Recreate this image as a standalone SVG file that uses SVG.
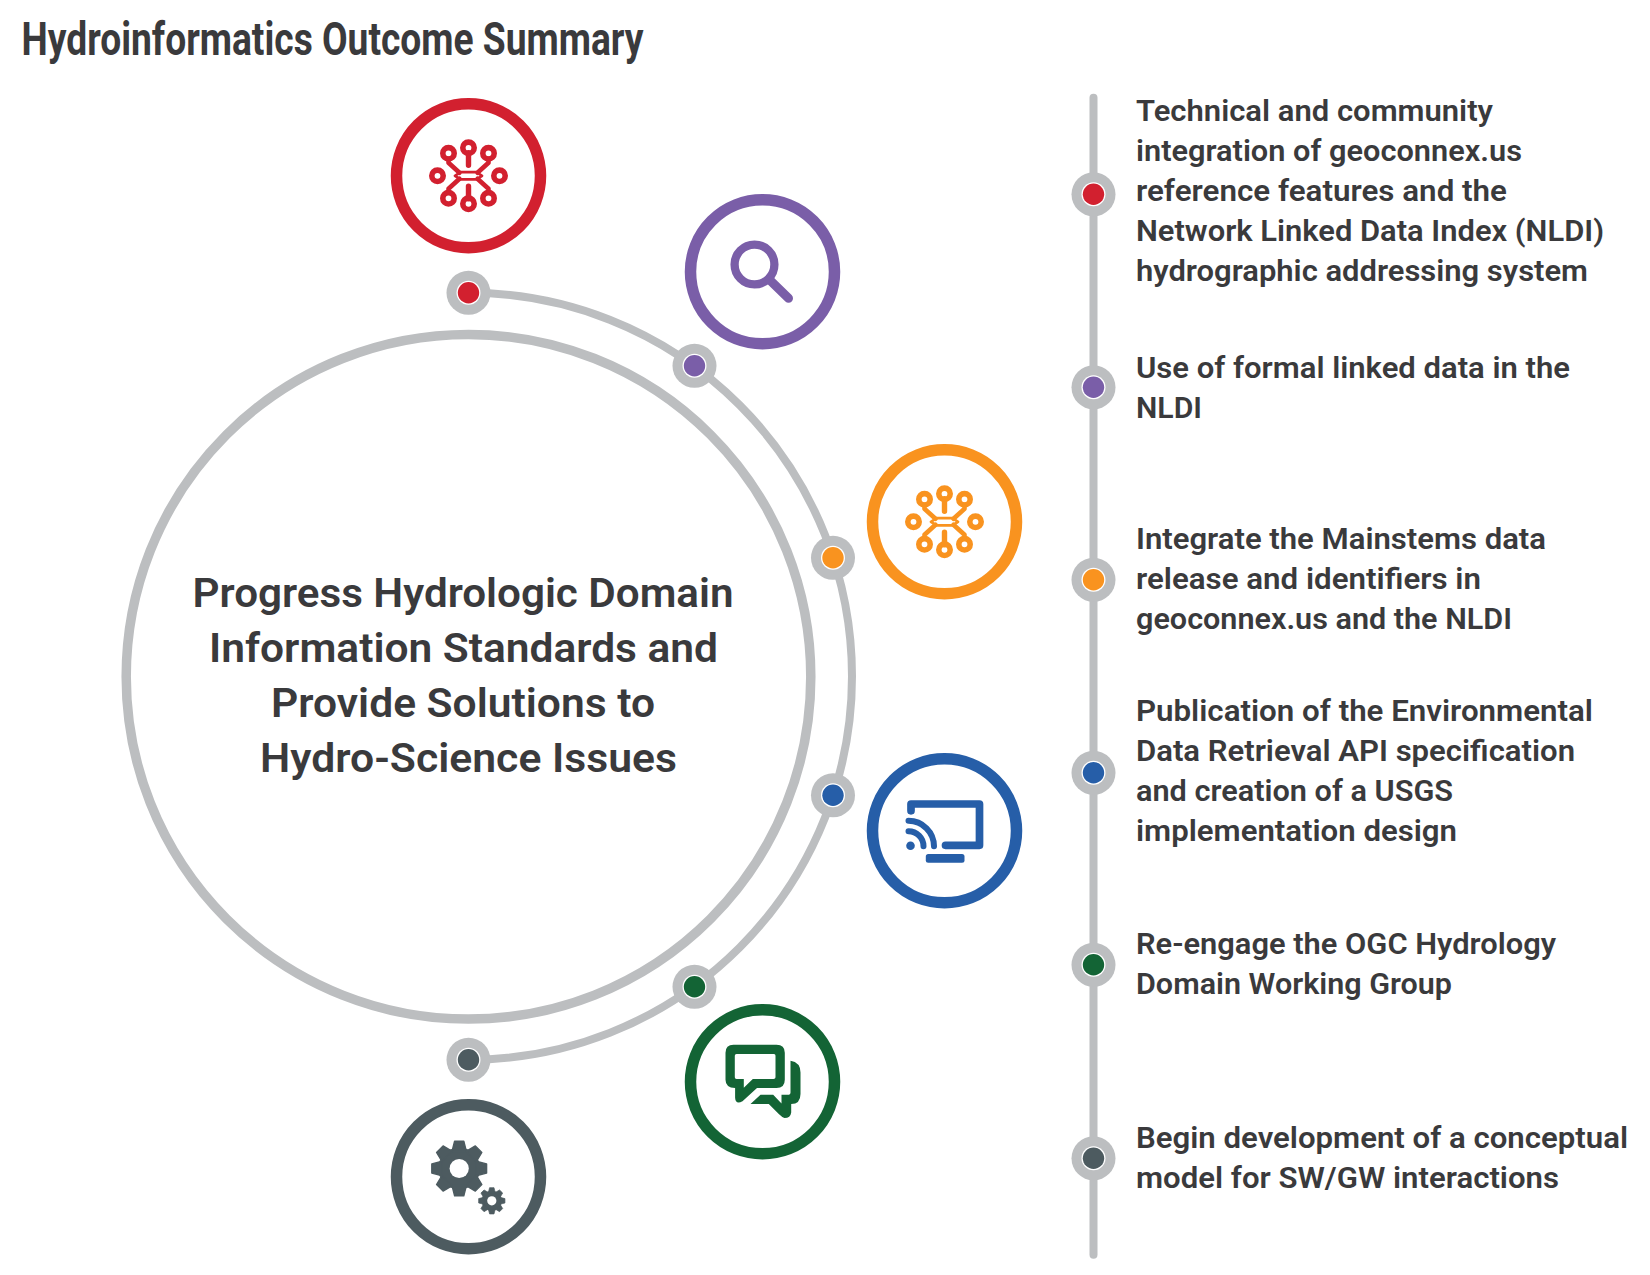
<svg xmlns="http://www.w3.org/2000/svg" width="1650" height="1275" viewBox="0 0 1650 1275">
<style>
text{font-family:Roboto,"Liberation Sans",sans-serif;fill:#3a3a3c;font-weight:600}
.item{font-size:30px}
.hub{font-size:40px}
.title{font-size:47px;font-weight:700}
.ring{fill:#fff;stroke-width:11.5}
.conn{fill:none;stroke:#bcbec0}
.halo{fill:#bcbec0}
.gap{fill:#fff}
.circuit circle{fill:none;stroke-width:5.6}
.circuit path{fill:none;stroke-width:4.6;stroke-linejoin:round;stroke-linecap:round}
.red{stroke:#d2202f}.purple{stroke:#7a5ea8}.orange{stroke:#f9931f}.blue{stroke:#265ea8}.green{stroke:#136435}.slate{stroke:#4d5b60}
.fred{fill:#d2202f}.fpurple{fill:#7a5ea8}.forange{fill:#f9931f}.fblue{fill:#265ea8}.fgreen{fill:#136435}.fslate{fill:#4d5b60}
</style>
<defs>
<g id="circuit" class="circuit">
<circle cx="0" cy="-28" r="5.7"/><circle cx="-20" cy="-22.5" r="5.7"/><circle cx="20" cy="-22.5" r="5.7"/>
<circle cx="-31" cy="0" r="5.7"/><circle cx="31" cy="0" r="5.7"/>
<circle cx="-20" cy="22.5" r="5.7"/><circle cx="20" cy="22.5" r="5.7"/><circle cx="0" cy="28" r="5.7"/>
<path d="M-20,-17V-13L-9,-3M20,-17V-13L9,-3M-20,17V13L-9,3M20,17V13L9,3"/>
<path style="stroke-width:2.8" d="M-8,-3.6H8L13.5,0L8,3.6H-8L-13.5,0Z"/>
<path style="stroke-width:5.4" d="M0,-23V-10.5M0,23V10.5"/>
</g>
<path id="tooth" d="M-4.6,-27.4H4.6L7.2,-17H-7.2Z" stroke-linejoin="round" stroke-width="1.4"/>
<g id="gear">
<circle r="20.5"/>
<use href="#tooth"/><use href="#tooth" transform="rotate(45)"/><use href="#tooth" transform="rotate(90)"/><use href="#tooth" transform="rotate(135)"/>
<use href="#tooth" transform="rotate(180)"/><use href="#tooth" transform="rotate(225)"/><use href="#tooth" transform="rotate(270)"/><use href="#tooth" transform="rotate(315)"/>
<circle r="9.6" fill="#fff" stroke="none"/>
</g>
</defs>
<rect width="1650" height="1275" fill="#fff"/>
<text id="title" class="title" x="21.5" y="55" textLength="622" lengthAdjust="spacingAndGlyphs">Hydroinformatics Outcome Summary</text>
<g transform="translate(0.5 0.8)">
<g id="connectors">
<path class="conn" stroke-width="8" d="M468,292A383.5,383.5 0 0 1 468,1059"/>
<line class="conn" stroke-width="8" stroke-linecap="round" x1="1093" y1="97" x2="1093" y2="1254"/>
</g>

<g id="hub">
<circle cx="468" cy="676" r="342.3" fill="none" stroke="#bcbec0" stroke-width="9.5"/>
<text class="hub" x="192" y="606.5" textLength="541" lengthAdjust="spacingAndGlyphs">Progress Hydrologic Domain</text>
<text class="hub" x="208.5" y="661.5" textLength="509" lengthAdjust="spacingAndGlyphs">Information Standards and</text>
<text class="hub" x="270.5" y="716.5" textLength="384" lengthAdjust="spacingAndGlyphs">Provide Solutions to</text>
<text class="hub" x="259.5" y="771.5" textLength="417" lengthAdjust="spacingAndGlyphs">Hydro-Science Issues</text>
</g>

<g id="node-1">
<circle class="ring red" cx="468" cy="175" r="72"/>
<use href="#circuit" class="red" x="468" y="175" stroke="#d2202f"/>
<circle class="halo" cx="468" cy="292" r="22"/><circle class="gap" cx="468" cy="292" r="12"/><circle class="fred" cx="468" cy="292" r="10.7"/>
<circle class="halo" cx="1093" cy="193.5" r="22"/><circle class="gap" cx="1093" cy="193.5" r="12"/><circle class="fred" cx="1093" cy="193.5" r="10.7"/>
<text class="item" x="1135.5" y="120.5" textLength="357" lengthAdjust="spacingAndGlyphs">Technical and community</text>
<text class="item" x="1135.5" y="160.5" textLength="386" lengthAdjust="spacingAndGlyphs">integration of geoconnex.us</text>
<text class="item" x="1135.5" y="200.5" textLength="371" lengthAdjust="spacingAndGlyphs">reference features and the</text>
<text class="item" x="1135.5" y="240.5" textLength="468" lengthAdjust="spacingAndGlyphs">Network Linked Data Index (NLDI)</text>
<text class="item" x="1135.5" y="280.5" textLength="452" lengthAdjust="spacingAndGlyphs">hydrographic addressing system</text>
</g>

<g id="node-2">
<circle class="ring purple" cx="762" cy="271" r="72"/>
<circle cx="754" cy="263.7" r="19.9" fill="none" stroke="#7a5ea8" stroke-width="8.3"/>
<line x1="769" y1="279" x2="788" y2="297.5" stroke="#7a5ea8" stroke-width="9" stroke-linecap="round"/>
<circle class="halo" cx="694" cy="365" r="22"/><circle class="gap" cx="694" cy="365" r="12"/><circle class="fpurple" cx="694" cy="365" r="10.7"/>
<circle class="halo" cx="1093" cy="386.5" r="22"/><circle class="gap" cx="1093" cy="386.5" r="12"/><circle class="fpurple" cx="1093" cy="386.5" r="10.7"/>
<text class="item" x="1135.5" y="377.5" textLength="434" lengthAdjust="spacingAndGlyphs">Use of formal linked data in the</text>
<text class="item" x="1135.5" y="417.5" textLength="66" lengthAdjust="spacingAndGlyphs">NLDI</text>
</g>

<g id="node-3">
<circle class="ring orange" cx="944" cy="521" r="72"/>
<use href="#circuit" class="orange" x="944" y="521" stroke="#f9931f"/>
<circle class="halo" cx="832.5" cy="557" r="22"/><circle class="gap" cx="832.5" cy="557" r="12"/><circle class="forange" cx="832.5" cy="557" r="10.7"/>
<circle class="halo" cx="1093" cy="579" r="22"/><circle class="gap" cx="1093" cy="579" r="12"/><circle class="forange" cx="1093" cy="579" r="10.7"/>
<text class="item" x="1135.5" y="548.5" textLength="410" lengthAdjust="spacingAndGlyphs">Integrate the Mainstems data</text>
<text class="item" x="1135.5" y="588.5" textLength="345" lengthAdjust="spacingAndGlyphs">release and identifiers in</text>
<text class="item" x="1135.5" y="628.5" textLength="376" lengthAdjust="spacingAndGlyphs">geoconnex.us and the NLDI</text>
</g>

<g id="node-4">
<circle class="ring blue" cx="944" cy="830" r="72"/>
<g fill="none" stroke="#265ea8" stroke-linecap="round" stroke-linejoin="round">
<path stroke-width="7.7" d="M910.5,810V803.2H979V844.5H945"/>
<path stroke-width="6" d="M908,830.5A15,15 0 0 1 923,845.5"/>
<path stroke-width="6" d="M908,820A25.5,25.5 0 0 1 933.5,845.5"/>
</g>
<circle class="fblue" cx="910" cy="845" r="4.3"/>
<rect class="fblue" x="925.3" y="853.3" width="38.7" height="8.7" rx="2.5"/>
<circle class="halo" cx="832.5" cy="794.5" r="22"/><circle class="gap" cx="832.5" cy="794.5" r="12"/><circle class="fblue" cx="832.5" cy="794.5" r="10.7"/>
<circle class="halo" cx="1093" cy="772" r="22"/><circle class="gap" cx="1093" cy="772" r="12"/><circle class="fblue" cx="1093" cy="772" r="10.7"/>
<text class="item" x="1135.5" y="720.5" textLength="457" lengthAdjust="spacingAndGlyphs">Publication of the Environmental</text>
<text class="item" x="1135.5" y="760.5" textLength="439" lengthAdjust="spacingAndGlyphs">Data Retrieval API specification</text>
<text class="item" x="1135.5" y="800.5" textLength="317" lengthAdjust="spacingAndGlyphs">and creation of a USGS</text>
<text class="item" x="1135.5" y="840.5" textLength="321" lengthAdjust="spacingAndGlyphs">implementation design</text>
</g>

<g id="node-5">
<circle class="ring green" cx="762" cy="1081" r="72"/>
<path class="fgreen" fill-rule="evenodd" d="M733,1044H776Q784.3,1044 784.3,1052V1079Q784.3,1087.3 776,1087.3H756.5L742,1100.5Q735,1104 734.6,1097V1087.3Q725,1087 725,1079V1052Q725,1044 733,1044ZM736,1053.3H773.5Q775,1053.3 775,1055V1076.5Q775,1078.3 773,1078.3H752.3L743.3,1087V1078.3H736Q734.3,1078.3 734.3,1076.5V1055Q734.3,1053.3 736,1053.3Z"/>
<path class="fgreen" d="M790,1060Q800,1061.7 800,1071.7V1093.3Q800,1103.3 790.7,1103.3V1111.7Q790,1117.3 784,1117.3Q781.7,1116.7 778.3,1113.3L768.3,1103.3H750L760,1094H772.7L781,1102.7V1094H787.3Q790,1094 790,1091.7Z"/>
<circle class="halo" cx="694" cy="986" r="22"/><circle class="gap" cx="694" cy="986" r="12"/><circle class="fgreen" cx="694" cy="986" r="10.7"/>
<circle class="halo" cx="1093" cy="964" r="22"/><circle class="gap" cx="1093" cy="964" r="12"/><circle class="fgreen" cx="1093" cy="964" r="10.7"/>
<text class="item" x="1135.5" y="953" textLength="420" lengthAdjust="spacingAndGlyphs">Re-engage the OGC Hydrology</text>
<text class="item" x="1135.5" y="993" textLength="316" lengthAdjust="spacingAndGlyphs">Domain Working Group</text>
</g>

<g id="node-6">
<circle class="ring slate" cx="468" cy="1176" r="72"/>
<use href="#gear" class="fslate slate" x="458.7" y="1167.7"/>
<use href="#gear" class="fslate slate" transform="translate(491.3 1200) scale(.48)"/>
<circle class="halo" cx="468" cy="1059" r="22"/><circle class="gap" cx="468" cy="1059" r="12"/><circle class="fslate" cx="468" cy="1059" r="10.7"/>
<circle class="halo" cx="1093" cy="1157.5" r="22"/><circle class="gap" cx="1093" cy="1157.5" r="12"/><circle class="fslate" cx="1093" cy="1157.5" r="10.7"/>
<text class="item" x="1135.5" y="1147" textLength="492" lengthAdjust="spacingAndGlyphs">Begin development of a conceptual</text>
<text class="item" x="1135.5" y="1187" textLength="423" lengthAdjust="spacingAndGlyphs">model for SW/GW interactions</text>
</g>
</g>
</svg>
